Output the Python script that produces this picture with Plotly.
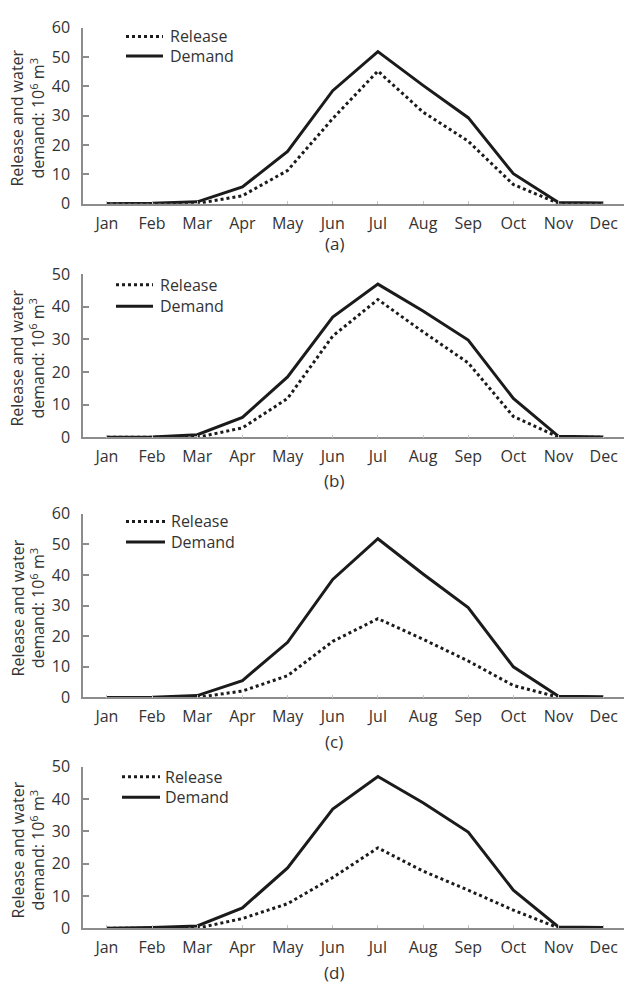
import plotly.graph_objects as go

months = ["Jan", "Feb", "Mar", "Apr", "May", "Jun", "Jul", "Aug", "Sep", "Oct", "Nov", "Dec"]

# Monthly reservoir release and water demand (10^6 m^3) for the four cases
release_a = [0, 0, 0, 2.7, 11.3, 29.0, 45.2, 31.2, 21.3, 6.5, 0.1, 0]
demand_a = [0, 0.1, 0.6, 5.7, 17.8, 38.5, 51.8, 40.3, 29.3, 10.2, 0.4, 0.2]

release_b = [0, 0, 0, 2.9, 11.9, 31.0, 42.2, 32.3, 22.8, 6.4, 0.1, 0]
demand_b = [0, 0.1, 0.8, 6.1, 18.5, 36.8, 46.9, 38.7, 29.8, 11.9, 0.3, 0.1]

release_c = [0, 0, 0, 2.1, 7.1, 18.3, 25.7, 19.0, 11.9, 3.9, 0.1, 0]
demand_c = [0, 0.1, 0.6, 5.5, 18.0, 38.5, 51.8, 40.3, 29.3, 10.0, 0.4, 0.2]

release_d = [0, 0, 0, 3.0, 7.6, 15.7, 24.9, 17.7, 11.8, 5.6, 0.1, 0]
demand_d = [0, 0.2, 0.7, 6.3, 18.7, 36.9, 47.0, 38.9, 29.8, 11.8, 0.4, 0.2]

series_names = ["Release", "Demand"]
captions = ["(a)", "(b)", "(c)", "(d)"]
y_max = [60, 50, 60, 50]

panels = [
    (release_a, demand_a),
    (release_b, demand_b),
    (release_c, demand_c),
    (release_d, demand_d),
]

W, H = 624, 993
FONT = "Open Sans"
TXT = "#333333"
AXC = "#8c8c8c"
LINE = "#1b1b1b"

# pixel layout per panel: y-axis top, zero line, caption row
geom = [(17, 197, 238), (269, 436, 480), (514, 702, 747), (773, 938, 983)]
# key placement per panel: sample x0, x1, text x, row y (Release, Demand)
keys = [
    (126, 163, 169, 26, 46),
    (116, 153, 159, 280, 302),
    (126, 165, 170, 522, 543),
    (122, 160, 164, 783, 804),
]
x_left = 83


def px(p):
    return p / W


def py(p):
    return 1 - p / H


fig = go.Figure()
annotations = []
shapes = []
layout = dict(
    width=W, height=H,
    margin=dict(l=0, r=0, t=0, b=0),
    paper_bgcolor="white", plot_bgcolor="white",
    font=dict(family=FONT, size=16, color=TXT),
    showlegend=False,
)

for i, (rel, dem) in enumerate(panels):
    n = "" if i == 0 else str(i + 1)
    top, zero, capy = geom[i]
    fig.add_trace(go.Scatter(
        x=months, y=rel, mode="lines", name=series_names[0],
        line=dict(color=LINE, width=3, dash="dot"),
        xaxis="x" + n, yaxis="y" + n,
    ))
    fig.add_trace(go.Scatter(
        x=months, y=dem, mode="lines", name=series_names[1],
        line=dict(color=LINE, width=3),
        xaxis="x" + n, yaxis="y" + n,
    ))
    layout["xaxis" + n] = dict(
        domain=[px(x_left), 1], anchor="y" + n,
        range=[-0.53, 11.45], showgrid=False, zeroline=False,
        showline=True, linecolor=AXC, linewidth=1.5,
        ticks="inside", ticklen=3, tickcolor="#c4c4c4", tickwidth=1,
        ticklabelstandoff=4,
        tickfont=dict(family=FONT, size=16, color=TXT),
    )
    layout["yaxis" + n] = dict(
        domain=[py(zero), py(top)], anchor="x" + n,
        range=[0, y_max[i]], dtick=10, showgrid=False, zeroline=False,
        showline=True, linecolor=AXC, linewidth=1.5,
        ticks="inside", ticklen=6, tickcolor=AXC, tickwidth=1.5,
        ticklabelstandoff=8,
        tickfont=dict(family=FONT, size=16, color=TXT),
    )

    # key: line samples and their labels
    kx0, kx1, tx, ry, dy = keys[i]
    for yy, dash in ((ry, "dot"), (dy, "solid")):
        shapes.append(dict(
            type="line", xref="paper", yref="paper",
            x0=px(kx0), x1=px(kx1), y0=py(yy), y1=py(yy),
            line=dict(color=LINE, width=3, dash=dash),
        ))
    for yy, name in ((ry, series_names[0]), (dy, series_names[1])):
        annotations.append(dict(
            text=name, x=px(tx), y=py(yy), xref="paper", yref="paper",
            showarrow=False, xanchor="left", yanchor="middle",
            borderpad=0, font=dict(family=FONT, size=16, color=TXT),
        ))

    annotations.append(dict(
        text="Release and water<br>demand: 10<sup>6</sup> m<sup>3</sup>",
        textangle=-90, x=px(28), y=py((top + zero) / 2 + 3),
        xref="paper", yref="paper", showarrow=False,
        xanchor="center", yanchor="middle",
        font=dict(family=FONT, size=16, color=TXT),
    ))
    annotations.append(dict(
        text=captions[i], x=px(334), y=py(capy), xref="paper", yref="paper",
        showarrow=False, xanchor="center", yanchor="middle",
        font=dict(family=FONT, size=17, color=TXT),
    ))

layout["annotations"] = annotations
layout["shapes"] = shapes
fig.update_layout(**layout)
fig.write_html("out.html")
